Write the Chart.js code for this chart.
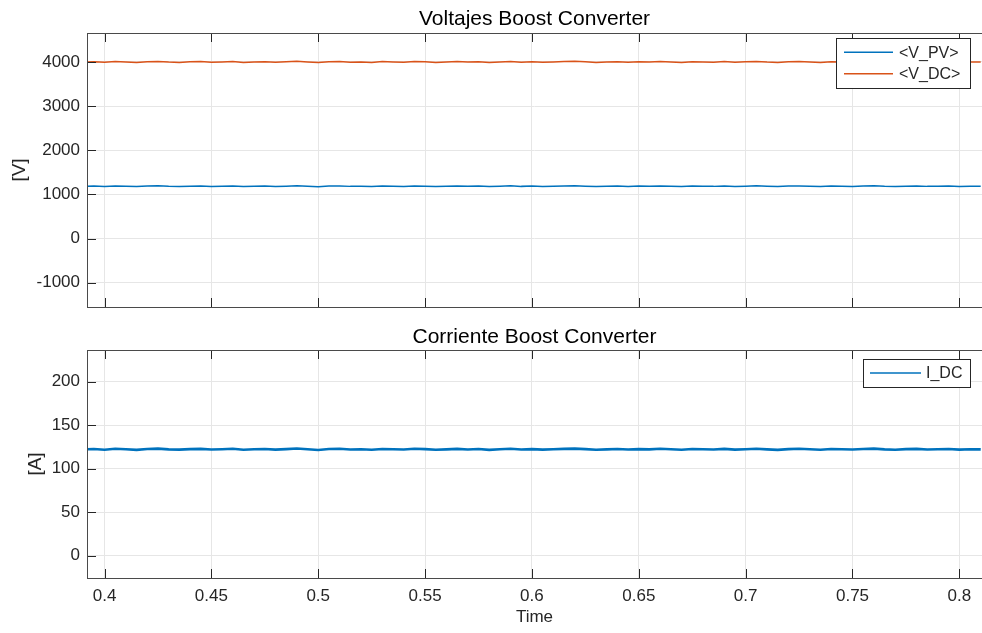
<!DOCTYPE html>
<html lang="es">
<head>
  <meta charset="UTF-8">
  <title>Boost Converter</title>
  <script src="https://cdn.jsdelivr.net/npm/chart.js"></script>
  <style>
    body {
      margin: 0;
      background: #fff;
    }
    canvas {
      position: absolute;
      left: 0;
    }
    #volt-chart { top: 0; }
    #curr-chart { top: 320px; }
  </style>
</head>
<body>
  <canvas id="volt-chart" width="982" height="320"></canvas>
  <canvas id="curr-chart" width="982" height="313"></canvas>
  <script>
    // Tiempo de simulación (s)
    const time = [
      0.390, 0.395, 0.400, 0.405, 0.410, 0.415, 0.420, 0.425, 0.430, 0.435,
      0.440, 0.445, 0.450, 0.455, 0.460, 0.465, 0.470, 0.475, 0.480, 0.485,
      0.490, 0.495, 0.500, 0.505, 0.510, 0.515, 0.520, 0.525, 0.530, 0.535,
      0.540, 0.545, 0.550, 0.555, 0.560, 0.565, 0.570, 0.575, 0.580, 0.585,
      0.590, 0.595, 0.600, 0.605, 0.610, 0.615, 0.620, 0.625, 0.630, 0.635,
      0.640, 0.645, 0.650, 0.655, 0.660, 0.665, 0.670, 0.675, 0.680, 0.685,
      0.690, 0.695, 0.700, 0.705, 0.710, 0.715, 0.720, 0.725, 0.730, 0.735,
      0.740, 0.745, 0.750, 0.755, 0.760, 0.765, 0.770, 0.775, 0.780, 0.785,
      0.790, 0.795, 0.800, 0.805, 0.810
    ];
    // <V_PV> (V)
    const vPV = [
      1182, 1188, 1179, 1191, 1185, 1177, 1189, 1194, 1183, 1180,
      1187, 1192, 1181, 1186, 1193, 1178, 1184, 1190, 1180, 1187,
      1195, 1184, 1176, 1188, 1192, 1182, 1186, 1179, 1190, 1185,
      1181, 1193, 1187, 1178, 1184, 1191, 1183, 1189, 1177, 1186,
      1194, 1182, 1188, 1180, 1185, 1192, 1196, 1187, 1179, 1184,
      1190, 1181, 1188, 1183, 1193, 1186, 1178, 1189, 1185, 1182,
      1191, 1180, 1187, 1194, 1183, 1177, 1188, 1192, 1184, 1179,
      1190, 1186, 1181, 1189, 1195, 1183, 1178, 1187, 1191, 1182,
      1185, 1190, 1180, 1186, 1183
    ];
    // <V_DC> (V)
    const vDC = [
      3996, 4006, 3992, 4012, 4001, 3988, 4008, 4014, 3998, 3991,
      4004, 4010, 3994, 4002, 4013, 3989, 4000, 4007, 3993, 4004,
      4016, 4000, 3986, 4005, 4011, 3997, 4002, 3991, 4009, 4001,
      3994, 4013, 4004, 3989, 4000, 4010, 3998, 4007, 3988, 4002,
      4014, 3997, 4005, 3993, 4001, 4011, 4017, 4004, 3991, 4000,
      4008, 3994, 4005, 3998, 4013, 4002, 3989, 4007, 4001, 3997,
      4010, 3993, 4004, 4014, 3998, 3988, 4005, 4011, 4000, 3991,
      4008, 4002, 3994, 4007, 4015, 3998, 3989, 4004, 4010, 3997,
      4001, 4008, 3993, 4002, 3998
    ];
    // I_DC (A)
    const iDC = [
      122.1, 122.6, 121.8, 122.9, 122.3, 121.6, 122.7, 123.1, 122.2, 121.9,
      122.5, 122.8, 122.0, 122.4, 123.0, 121.7, 122.3, 122.6, 121.9, 122.5,
      123.2, 122.3, 121.5, 122.6, 122.9, 122.1, 122.4, 121.8, 122.7, 122.3,
      122.0, 122.9, 122.5, 121.7, 122.2, 122.8, 122.1, 122.6, 121.6, 122.4,
      123.0, 122.1, 122.5, 121.9, 122.3, 122.8, 123.1, 122.5, 121.8, 122.2,
      122.7, 122.0, 122.5, 122.2, 122.9, 122.4, 121.7, 122.6, 122.3, 122.1,
      122.8, 121.9, 122.4, 123.0, 122.2, 121.6, 122.5, 122.9, 122.3, 121.8,
      122.7, 122.4, 122.0, 122.6, 123.1, 122.2, 121.7, 122.5, 122.8, 122.1,
      122.3, 122.7, 121.9, 122.4, 122.2
    ];
    // Marcas de los ejes
    const xTicks = [0.4, 0.45, 0.5, 0.55, 0.6, 0.65, 0.7, 0.75, 0.8];
    const voltTicks = [-1000, 0, 1000, 2000, 3000, 4000];
    const currTicks = [0, 50, 100, 150, 200];

    const FONT = '"Liberation Sans", Arial, Helvetica, sans-serif';
    const TXT = '#262626';
    const BLUE = '#0072BD';
    const ORANGE = '#D95319';

    const pts = ys => time.map((t, i) => ({ x: t, y: ys[i] }));

    // caja de ejes y marcas hacia dentro, estilo MATLAB
    const axesBox = {
      id: 'axesBox',
      afterDatasetsDraw(chart, args, o) {
        const { ctx, chartArea: a, scales } = chart;
        ctx.save();
        ctx.strokeStyle = o.color;
        ctx.lineWidth = 1;
        ctx.beginPath();
        scales.x.ticks.forEach(t => {
          const px = Math.round(scales.x.getPixelForValue(t.value)) + 0.5;
          ctx.moveTo(px, a.bottom); ctx.lineTo(px, a.bottom - o.len);
          ctx.moveTo(px, a.top); ctx.lineTo(px, a.top + o.len);
        });
        scales.y.ticks.forEach(t => {
          const py = Math.round(scales.y.getPixelForValue(t.value)) + 0.5;
          ctx.moveTo(a.left, py); ctx.lineTo(a.left + o.len, py);
        });
        ctx.stroke();
        ctx.strokeStyle = o.border;
        ctx.strokeRect(Math.round(a.left) + 0.5, Math.round(a.top) + 0.5,
          a.right - a.left + 4, Math.round(a.bottom - a.top));
        ctx.restore();
      }
    };

    // leyenda en recuadro dentro del área de trazado
    const boxLegend = {
      id: 'boxLegend',
      afterDraw(chart, args, o) {
        const { ctx, chartArea: a } = chart;
        const sets = chart.data.datasets;
        const h = sets.length * o.row + o.padY * 2;
        const x = a.right - o.right - o.width;
        const y = a.top + o.top;
        ctx.save();
        ctx.fillStyle = '#fff';
        ctx.fillRect(x, y, o.width, h);
        ctx.strokeStyle = TXT;
        ctx.lineWidth = 1;
        ctx.strokeRect(x + 0.5, y + 0.5, o.width, h);
        ctx.font = o.size + 'px ' + FONT;
        ctx.textBaseline = 'middle';
        ctx.fillStyle = TXT;
        sets.forEach((ds, i) => {
          const cy = y + o.padY + o.row * (i + 0.5);
          ctx.strokeStyle = ds.borderColor;
          ctx.lineWidth = 1.5;
          ctx.beginPath();
          ctx.moveTo(x + o.padX, cy);
          ctx.lineTo(x + o.padX + o.lineLen, cy);
          ctx.stroke();
          ctx.fillText(ds.label, x + o.padX + o.lineLen + o.gap, cy + 1);
        });
        ctx.restore();
      }
    };

    function xScale(showLabels, height) {
      return {
        type: 'linear',
        min: 0.3918,
        max: 0.8106,
        afterBuildTicks: s => { s.ticks = xTicks.map(v => ({ value: v })); },
        afterFit: s => { s.height = height; s.paddingLeft = 0; s.paddingRight = 0; },
        grid: { color: '#e6e6e6', drawTicks: false },
        border: { display: false },
        ticks: {
          display: showLabels,
          padding: 8,
          color: TXT,
          font: { family: FONT, size: 17 },
          callback: v => String(v)
        },
        title: {
          display: showLabels,
          text: 'Time',
          color: TXT,
          font: { family: FONT, size: 17 },
          padding: { top: 0, bottom: 5 }
        }
      };
    }

    function yScale(min, max, ticks, label, titlePad) {
      return {
        min: min,
        max: max,
        afterBuildTicks: s => { s.ticks = ticks.map(v => ({ value: v })); },
        afterFit: s => { s.width = 87; s.paddingTop = 0; s.paddingBottom = 0; },
        grid: { color: '#e6e6e6', drawTicks: false },
        border: { display: false },
        ticks: {
          padding: 7,
          color: TXT,
          font: { family: FONT, size: 17 },
          callback: v => String(v)
        },
        title: {
          display: true,
          text: label,
          color: TXT,
          font: { family: FONT, size: 19 },
          padding: { top: titlePad, bottom: 0 }
        }
      };
    }

    function plotTitle(text, top, bottom) {
      return {
        display: true,
        text: text,
        fullSize: false,
        color: '#000',
        font: { family: FONT, size: 21, weight: 'normal' },
        padding: { top: top, bottom: bottom }
      };
    }

    new Chart(document.getElementById('volt-chart'), {
      type: 'line',
      data: {
        datasets: [
          { label: '<V_PV>', data: pts(vPV), borderColor: BLUE, borderWidth: 1.5 },
          { label: '<V_DC>', data: pts(vDC), borderColor: ORANGE, borderWidth: 1.5 }
        ]
      },
      options: {
        responsive: false,
        animation: false,
        devicePixelRatio: 1,
        layout: { padding: 0 },
        elements: { point: { radius: 0 }, line: { tension: 0 } },
        scales: {
          x: xScale(false, 13),
          y: yScale(-1551, 4657, voltTicks, '[V]', 8)
        },
        plugins: {
          legend: { display: false },
          tooltip: { enabled: false },
          title: plotTitle('Voltajes Boost Converter', 6.5, 1.3),
          axesBox: { color: '#262626', border: '#4a4a4a', len: 9 },
          boxLegend: { right: 12, top: 5, width: 134, row: 21.5, padY: 3.5, padX: 8, lineLen: 49, gap: 6, size: 16 }
        }
      },
      plugins: [axesBox, boxLegend]
    });

    new Chart(document.getElementById('curr-chart'), {
      type: 'line',
      data: {
        datasets: [
          { label: 'I_DC', data: pts(iDC), borderColor: BLUE, borderWidth: 2.6 }
        ]
      },
      options: {
        responsive: false,
        animation: false,
        devicePixelRatio: 1,
        layout: { padding: 0 },
        elements: { point: { radius: 0 }, line: { tension: 0 } },
        scales: {
          x: xScale(true, 55),
          y: yScale(-25.6, 236.4, currTicks, '[A]', 24)
        },
        plugins: {
          legend: { display: false },
          tooltip: { enabled: false },
          title: plotTitle('Corriente Boost Converter', 4.8, 0),
          axesBox: { color: '#262626', border: '#4a4a4a', len: 9 },
          boxLegend: { right: 12, top: 9, width: 107, row: 21, padY: 3.5, padX: 7, lineLen: 51, gap: 5, size: 16 }
        }
      },
      plugins: [axesBox, boxLegend]
    });
  </script>
</body>
</html>
